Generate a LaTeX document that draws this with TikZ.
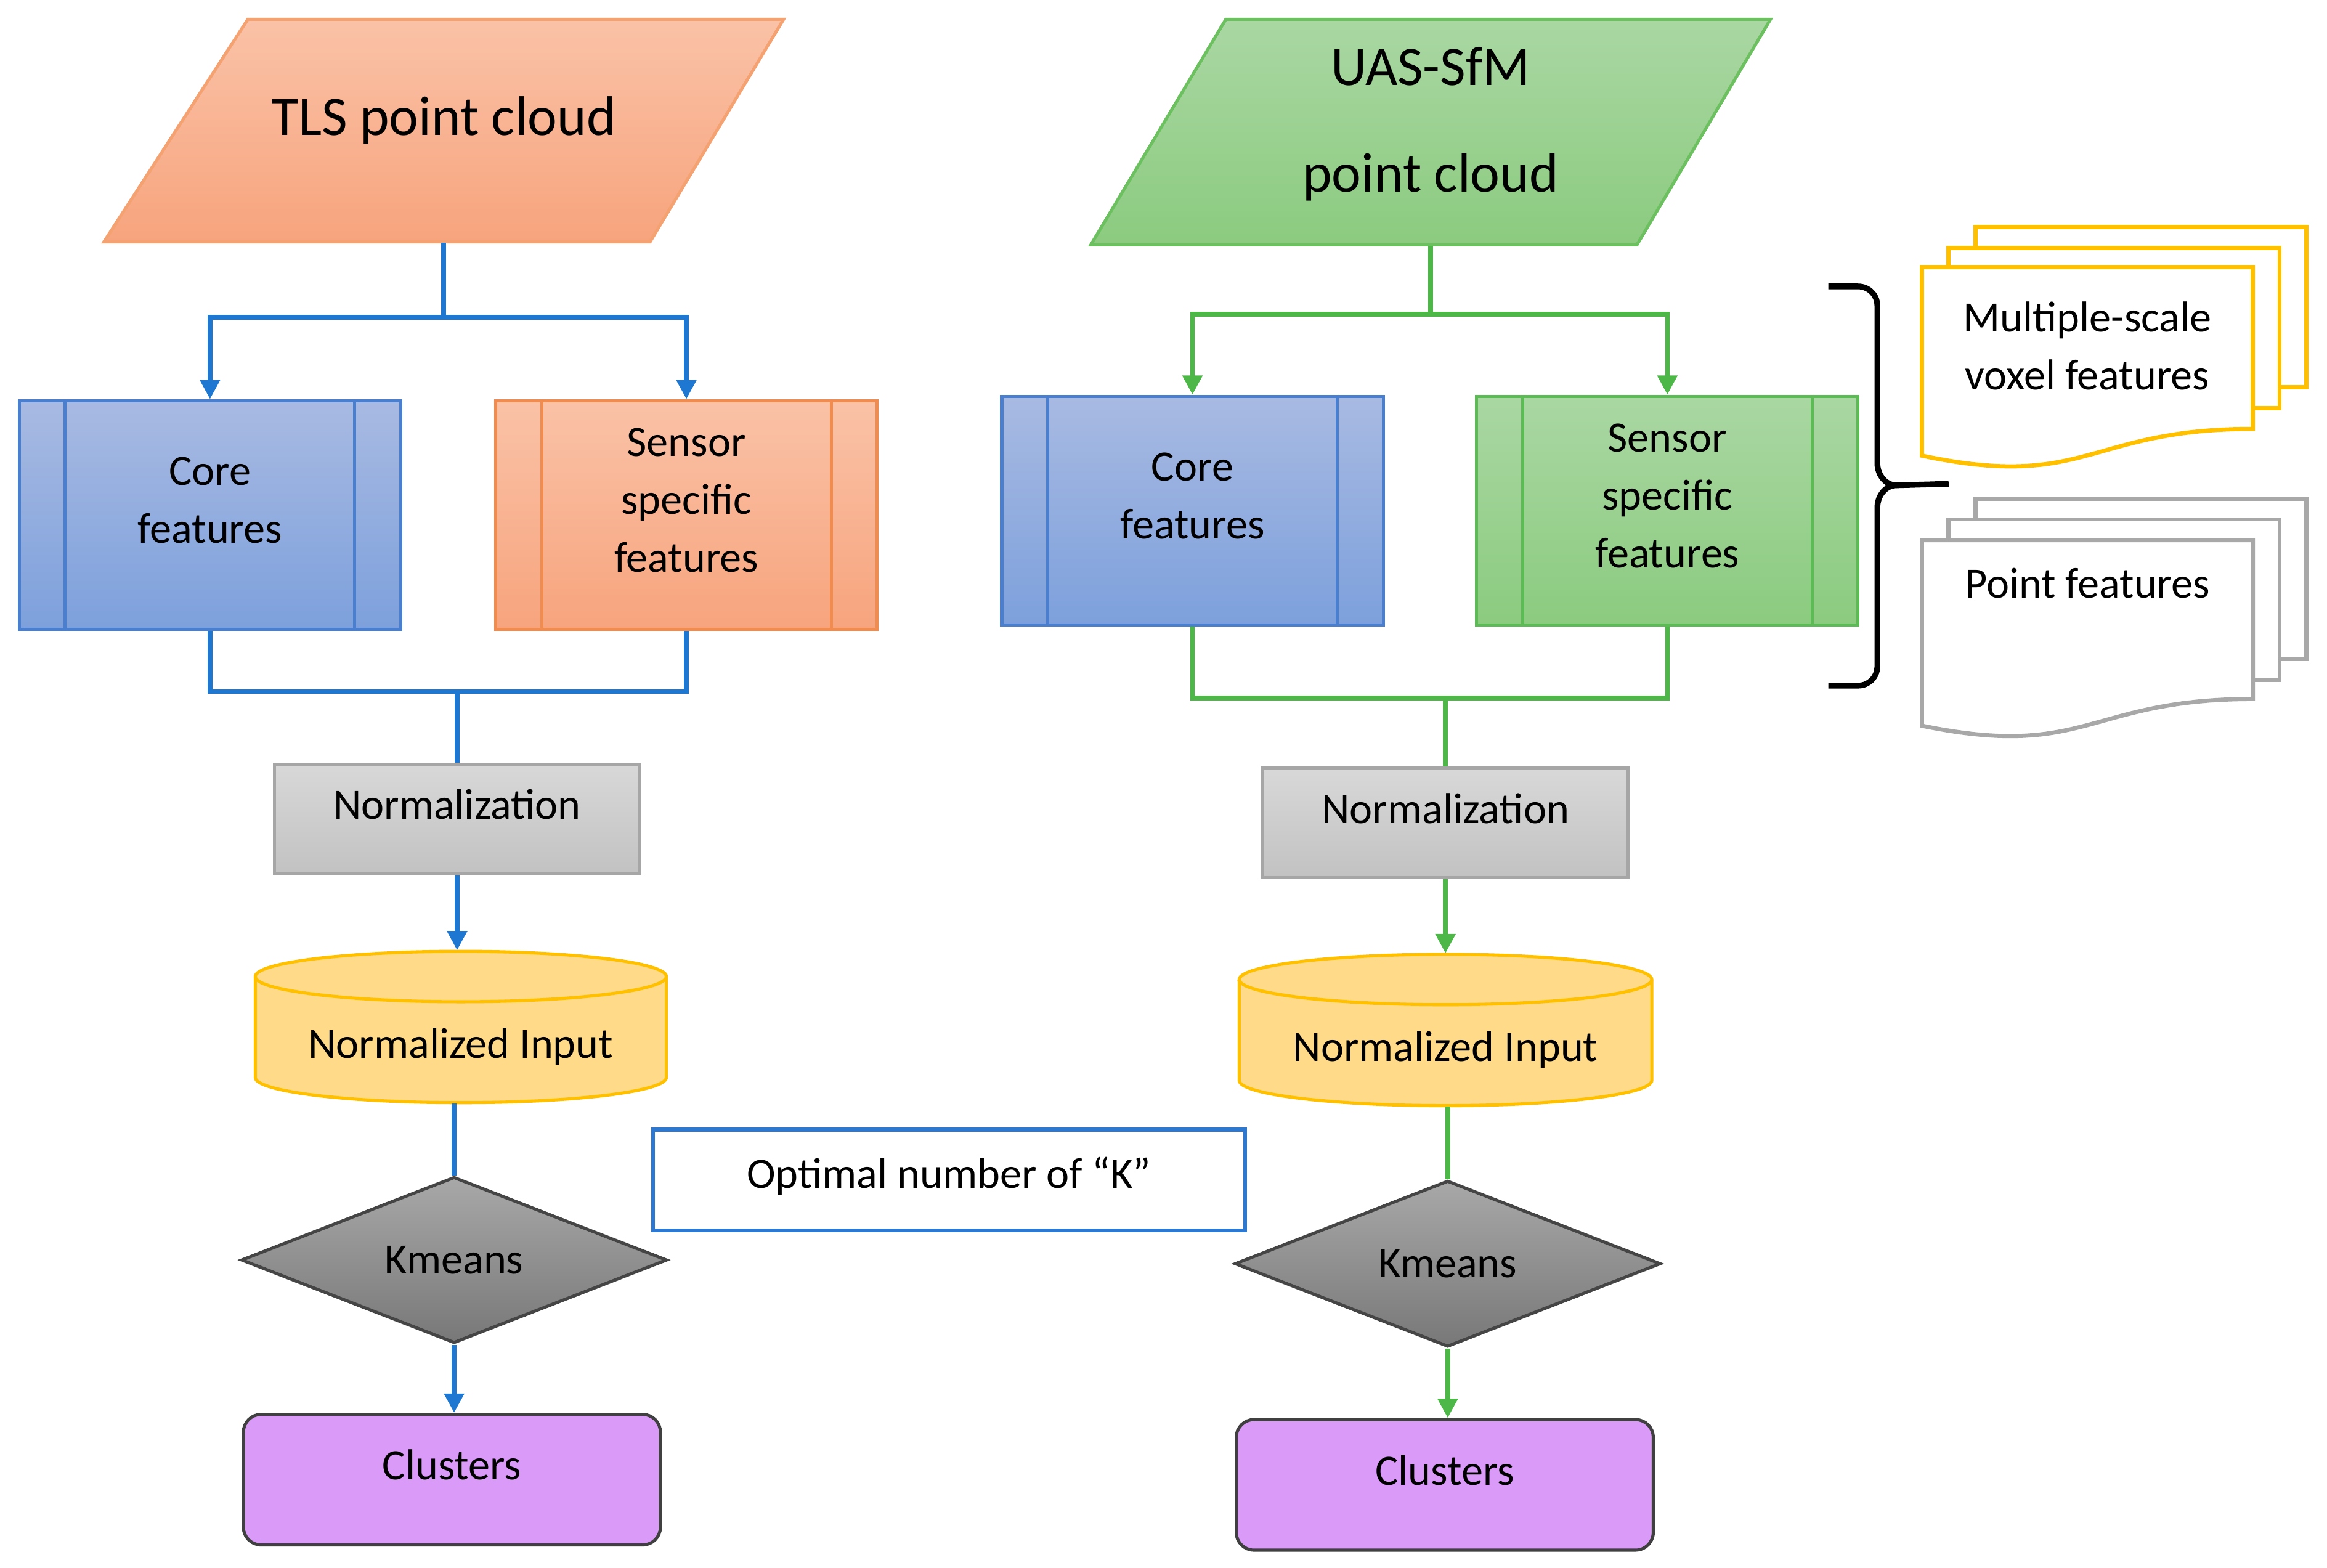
\documentclass[tikz,border=0pt]{standalone}
\usepackage{fontspec}
\setmainfont{Carlito}
\usepackage{tikz}
\usetikzlibrary{calc,shapes.geometric,arrows.meta}
\definecolor{lineblue}{HTML}{1E78D2}
\definecolor{linegreen}{HTML}{4DB848}
\definecolor{tlstop}{HTML}{FAC2A7}
\definecolor{tlsbot}{HTML}{F7A47D}
\definecolor{tlsedge}{HTML}{F4A272}
\definecolor{orgedge}{HTML}{F08C4F}
\definecolor{uastop}{HTML}{AAD7A3}
\definecolor{uasbot}{HTML}{8BCB7F}
\definecolor{uasedge}{HTML}{6CC05F}
\definecolor{grnedge}{HTML}{5DBB55}
\definecolor{coretop}{HTML}{A8BAE2}
\definecolor{corebot}{HTML}{7DA0DC}
\definecolor{coreedge}{HTML}{4A7FD0}
\definecolor{normtop}{HTML}{D8D8D8}
\definecolor{normbot}{HTML}{C2C2C2}
\definecolor{normedge}{HTML}{A6A6A6}
\definecolor{cylfill}{HTML}{FFDA88}
\definecolor{cyledge}{HTML}{FFC000}
\definecolor{diatop}{HTML}{A8A8A8}
\definecolor{diabot}{HTML}{787878}
\definecolor{diaedge}{HTML}{454545}
\definecolor{clufill}{HTML}{DA9BF8}
\definecolor{cluedge}{HTML}{404040}
\definecolor{optedge}{HTML}{2E78D0}
\definecolor{docgray}{HTML}{A8A8A8}
\tikzstyle{txt} = [font=\fontsize{8.3}{11.1}\selectfont, align=center, inner sep=0pt]
\tikzstyle{title} = [rectangle, minimum width=4.58cm, minimum height=1.5cm, inner sep=0pt, font=\fontsize{10.7}{20.5}\selectfont, align=center, text depth=0.2cm]
\tikzstyle{titleline} = [line width=0.6pt]
\tikzstyle{proc} = [txt, rectangle, minimum width=2.57cm, minimum height=1.54cm, line width=0.6pt, text depth=0.2cm]
\tikzstyle{norm} = [txt, rectangle, minimum width=2.46cm, minimum height=0.74cm, line width=0.6pt, draw=normedge, top color=normtop, bottom color=normbot, text depth=0.2cm]
\tikzstyle{store} = [txt, rectangle, minimum width=2.77cm, minimum height=1.02cm, text height=0.42cm, text depth=0cm]
\tikzstyle{storeline} = [draw=cyledge, fill=cylfill, line width=0.6pt]
\tikzstyle{decide} = [txt, diamond, aspect=2.56, minimum width=2.87cm, minimum height=1.12cm, line width=0.6pt, draw=diaedge, top color=diatop, bottom color=diabot]
\tikzstyle{result} = [txt, rectangle, rounded corners=0.12cm, minimum width=2.81cm, minimum height=0.88cm, line width=0.6pt, draw=cluedge, fill=clufill, text depth=0.2cm]
\tikzstyle{flowL} = [draw=lineblue, line width=0.9pt]
\tikzstyle{arrowL} = [flowL, -{Triangle[length=0.13cm,width=0.13cm]}]
\tikzstyle{flowR} = [draw=linegreen, line width=0.9pt]
\tikzstyle{arrowR} = [flowR, -{Triangle[length=0.13cm,width=0.13cm]}]

\begin{document}
\begin{tikzpicture}
        \useasboundingbox (0,0) rectangle (15.68,-10.565);

        \draw [titleline, draw=tlsedge, top color=tlstop, bottom color=tlsbot] (1.67,-0.13) -- (5.28,-0.13) -- (4.38,-1.63) -- (0.70,-1.63) -- cycle;
        \node (TLS) [title] at (2.99,-0.88) {TLS point cloud};
        \draw [titleline, draw=uasedge, top color=uastop, bottom color=uasbot] (8.26,-0.13) -- (11.93,-0.13) -- (11.03,-1.65) -- (7.35,-1.65) -- cycle;
        \node (UAS) [title, minimum height=1.52cm, text depth=0.17cm] at (9.64,-0.89) {UAS-SfM\\point cloud};

        \node (CoreL) [proc, draw=coreedge, top color=coretop, bottom color=corebot] at (1.415,-3.47) {Core\\features};
        \node (SensL) [proc, draw=orgedge, top color=tlstop, bottom color=tlsbot] at (4.625,-3.47) {Sensor\\specific\\features};
        \node (CoreR) [proc, draw=coreedge, top color=coretop, bottom color=corebot] at (8.035,-3.44) {Core\\features};
        \node (SensR) [proc, draw=grnedge, top color=uastop, bottom color=uasbot] at (11.235,-3.44) {Sensor\\specific\\features};

        \draw [coreedge, line width=0.6pt] ($(CoreL.north west)+(0.32,0)$) -- ($(CoreL.south west)+(0.32,0)$);
        \draw [coreedge, line width=0.6pt] ($(CoreL.north east)+(-0.32,0)$) -- ($(CoreL.south east)+(-0.32,0)$);
        \draw [orgedge, line width=0.6pt] ($(SensL.north west)+(0.32,0)$) -- ($(SensL.south west)+(0.32,0)$);
        \draw [orgedge, line width=0.6pt] ($(SensL.north east)+(-0.32,0)$) -- ($(SensL.south east)+(-0.32,0)$);
        \draw [coreedge, line width=0.6pt] ($(CoreR.north west)+(0.32,0)$) -- ($(CoreR.south west)+(0.32,0)$);
        \draw [coreedge, line width=0.6pt] ($(CoreR.north east)+(-0.32,0)$) -- ($(CoreR.south east)+(-0.32,0)$);
        \draw [grnedge, line width=0.6pt] ($(SensR.north west)+(0.32,0)$) -- ($(SensR.south west)+(0.32,0)$);
        \draw [grnedge, line width=0.6pt] ($(SensR.north east)+(-0.32,0)$) -- ($(SensR.south east)+(-0.32,0)$);

        \node (NormL) [norm] at (3.08,-5.52) {Normalization};
        \node (NormR) [norm] at (9.74,-5.545) {Normalization};

        \draw [storeline] (1.72,-6.58) -- (1.72,-7.26) arc[start angle=180, end angle=360, x radius=1.385cm, y radius=0.17cm] -- (4.49,-6.58) arc[start angle=0, end angle=180, x radius=1.385cm, y radius=0.17cm] -- cycle;
        \draw [storeline, fill=none] (1.72,-6.58) arc[start angle=180, end angle=360, x radius=1.385cm, y radius=0.17cm];
        \draw [storeline] (8.35,-6.60) -- (8.35,-7.28) arc[start angle=180, end angle=360, x radius=1.39cm, y radius=0.17cm] -- (11.13,-6.60) arc[start angle=0, end angle=180, x radius=1.39cm, y radius=0.17cm] -- cycle;
        \draw [storeline, fill=none] (8.35,-6.60) arc[start angle=180, end angle=360, x radius=1.39cm, y radius=0.17cm];
        \node (CylL) [store] at (3.105,-6.92) {Normalized Input};
        \node (CylR) [store] at (9.74,-6.94) {Normalized Input};

        \node (DiaL) [decide] at (3.06,-8.49) {Kmeans};
        \node (DiaR) [decide] at (9.755,-8.515) {Kmeans};
        \node (CluL) [result] at (3.045,-9.97) {Clusters};
        \node (CluR) [result] at (9.735,-10.005) {Clusters};
        \node (OptK) [txt, rectangle, minimum width=3.99cm, minimum height=0.68cm, draw=optedge, line width=0.8pt, text depth=0.1cm] at (6.395,-7.95) {Optimal number of “K”};

        \coordinate (jTL) at ($(TLS.south)+(0,-0.5)$);
        \draw [flowL] (TLS.south) -- (jTL);
        \draw [arrowL] (jTL) -| (CoreL.north);
        \draw [arrowL] (jTL) -| (SensL.north);
        \coordinate (mL) at ($(NormL.north)+(0,0.48)$);
        \draw [flowL] (CoreL.south) |- (mL);
        \draw [flowL] (SensL.south) |- (mL);
        \draw [flowL] (mL) -- (NormL.north);
        \draw [arrowL] (NormL.south) -- (NormL.south |- CylL.north);
        \draw [flowL] (CylL.south -| DiaL.north) -- (DiaL.north);
        \draw [arrowL] (DiaL.south) -- (DiaL.south |- CluL.north);

        \coordinate (jUA) at ($(UAS.south)+(0,-0.46)$);
        \draw [flowR] (UAS.south) -- (jUA);
        \draw [arrowR] (jUA) -| (CoreR.north);
        \draw [arrowR] (jUA) -| (SensR.north);
        \coordinate (mR) at ($(NormR.north)+(0,0.46)$);
        \draw [flowR] (CoreR.south) |- (mR);
        \draw [flowR] (SensR.south) |- (mR);
        \draw [flowR] (mR) -- (NormR.north);
        \draw [arrowR] (NormR.south) -- (NormR.south |- CylR.north);
        \draw [flowR] (CylR.south -| DiaR.north) -- (DiaR.north);
        \draw [arrowR] (DiaR.south) -- (DiaR.south |- CluR.north);

        \draw [black, line width=1.1pt] (12.32,-1.93) -- (12.52,-1.93) to[out=0,in=90] (12.65,-2.06) -- (12.65,-3.12) to[out=-90,in=180] (12.78,-3.27) to[out=180,in=90] (12.65,-3.42) -- (12.65,-4.49) to[out=-90,in=0] (12.52,-4.62) -- (12.32,-4.62);
        \coordinate (bt) at (13.13,-3.26);
        \draw [black, line width=1.1pt] (12.78,-3.27) -- (bt);

        \draw [cyledge, line width=0.8pt, fill=white] (13.31,-1.53) rectangle (15.54,-2.61);
        \draw [cyledge, line width=0.8pt, fill=white] (13.13,-1.67) rectangle (15.36,-2.75);
        \draw [cyledge, line width=0.8pt, fill=white] (12.95,-1.80) -- (15.18,-1.80) -- (15.18,-2.89) .. controls (14.065,-2.89) and (14.065,-3.306) .. (12.95,-3.07) -- cycle;
        \node (MSV) [txt] at (14.065,-2.33) {Multiple-scale\\voxel features};

        \draw [docgray, line width=0.8pt, fill=white] (13.31,-3.36) rectangle (15.54,-4.44);
        \draw [docgray, line width=0.8pt, fill=white] (13.13,-3.50) rectangle (15.36,-4.58);
        \draw [docgray, line width=0.8pt, fill=white] (12.95,-3.64) -- (15.18,-3.64) -- (15.18,-4.71) .. controls (14.065,-4.71) and (14.065,-5.12) .. (12.95,-4.89) -- cycle;
        \node (PTF) [txt] at (14.065,-3.93) {Point features};

    \end{tikzpicture}
\end{document}
